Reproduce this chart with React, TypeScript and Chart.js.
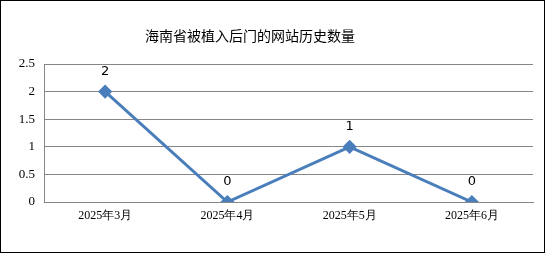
import React, { useEffect, useRef } from "react";
import { Chart, registerables } from "chart.js";

Chart.register(...registerables);

const titleText = "海南省被植入后门的网站历史数量";
const categories = ["2025年3月", "2025年4月", "2025年5月", "2025年6月"];
const seriesValues = [2, 0, 1, 0];
const yMin = 0;
const yMax = 2.5;
const yStep = 0.5;

const framePlugin = {
  id: "frameAndLabels",
  afterDraw(chart: any) {
    const ctx = chart.ctx;
    ctx.save();
    // outer border
    ctx.strokeStyle = "#000000";
    ctx.lineWidth = 1;
    ctx.strokeRect(0.5, 0.5, 544, 252);
    // title
    ctx.fillStyle = "#000000";
    ctx.font = "14px 'Noto Sans CJK SC', sans-serif";
    ctx.textAlign = "center";
    ctx.textBaseline = "middle";
    ctx.fillText(titleText, 250, 36);
    // data labels
    const meta = chart.getDatasetMeta(0);
    ctx.font = "13px 'DejaVu Sans', sans-serif";
    ctx.textBaseline = "middle";
    meta.data.forEach((pt: any, i: number) => {
      ctx.fillText(String(seriesValues[i]), pt.x, pt.y - 20);
    });
    ctx.restore();
  },
};

export default function App() {
  const ref = useRef<HTMLCanvasElement | null>(null);
  useEffect(() => {
    if (!ref.current) return;
    const chart = new Chart(ref.current, {
      type: "line",
      data: {
        labels: categories,
        datasets: [
          {
            data: seriesValues,
            borderColor: "#4A7EBB",
            backgroundColor: "#4A7EBB",
            borderWidth: 3,
            pointStyle: "rectRot",
            pointRadius: 5,
            pointHoverRadius: 5,
            pointBackgroundColor: "#4A7EBB",
            pointBorderColor: "#4A7EBB",
            tension: 0,
          },
        ],
      },
      options: {
        responsive: false,
        animation: false,
        events: [],
        layout: { padding: { top: 64, right: 13, left: 0, bottom: 0 } },
        plugins: {
          legend: { display: false },
          title: { display: false },
          tooltip: { enabled: false },
        },
        scales: {
          x: {
            type: "category",
            offset: true,
            afterFit: (s: any) => {
              s.height = 52;
            },
            grid: { display: false, drawTicks: false },
            border: { display: true, color: "#868686", width: 1 },
            ticks: {
              color: "#000000",
              padding: 7,
              font: { family: "'Liberation Serif', serif", size: 12 },
              maxRotation: 0,
            },
          },
          y: {
            min: yMin,
            max: yMax,
            afterFit: (s: any) => {
              s.width = 44;
            },
            grid: { color: "#868686", lineWidth: 1, drawTicks: false },
            border: { display: true, color: "#868686", width: 1 },
            ticks: {
              stepSize: yStep,
              color: "#000000",
              padding: 9,
              font: { family: "'Liberation Serif', serif", size: 13 },
              callback: (v: any) => String(Number(v)),
            },
          },
        },
      },
      plugins: [framePlugin],
    });
    return () => chart.destroy();
  }, []);
  return (
    <div style={{ position: "absolute", left: 0, top: 0, width: 546, height: 254, background: "#ffffff" }}>
      <canvas ref={ref} width={546} height={254} style={{ display: "block" }} />
    </div>
  );
}
